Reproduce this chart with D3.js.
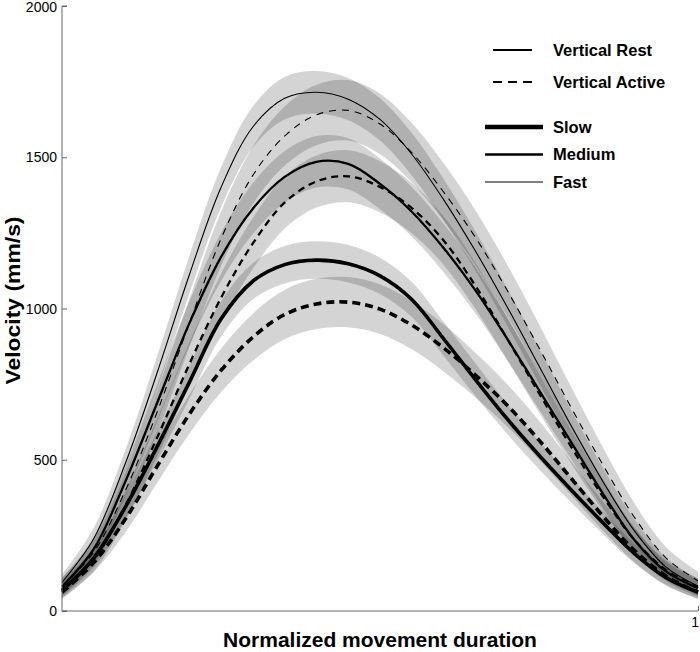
<!DOCTYPE html>
<html>
<head>
<meta charset="utf-8">
<script src="https://cdn.jsdelivr.net/npm/d3@7"></script>
<style>
  body { margin: 0; background: #fff; }
  svg { display: block; font-family: Arial, "Liberation Sans", sans-serif; }
  .tick-label { font-size: 14px; fill: #000; }
  .axis-title { font-size: 21px; font-weight: bold; fill: #000; }
  .legend-text { font-size: 16.5px; font-weight: bold; fill: #000; }
</style>
</head>
<body>
<svg width="700" height="652"></svg>
<script>
// normalized time samples
const tSteps = [0, 0.05, 0.1, 0.15, 0.2, 0.25, 0.3, 0.35, 0.4, 0.45, 0.5,
  0.55, 0.6, 0.65, 0.7, 0.75, 0.8, 0.85, 0.9, 0.95, 1];

// mean velocity profiles (mm/s)
const fastRest = [95, 240, 490, 790, 1110, 1400, 1600, 1695, 1715, 1692, 1625,
  1510, 1360, 1190, 1005, 810, 615, 430, 265, 145, 82];
const fastActive = [80, 195, 400, 660, 950, 1230, 1440, 1570, 1640, 1655, 1610,
  1515, 1385, 1235, 1060, 870, 675, 485, 310, 175, 100];
const mediumRest = [80, 205, 430, 690, 950, 1170, 1330, 1435, 1485, 1478, 1412,
  1320, 1200, 1060, 900, 730, 560, 390, 235, 130, 75];
const mediumActive = [70, 170, 350, 575, 815, 1035, 1215, 1350, 1420, 1437, 1402,
  1332, 1225, 1075, 900, 720, 545, 380, 235, 135, 80];
const slowRest = [68, 175, 345, 545, 755, 965, 1090, 1145, 1160, 1148, 1108,
  1030, 900, 765, 635, 515, 402, 293, 190, 110, 62];
const slowActive = [62, 160, 305, 480, 650, 795, 905, 980, 1015, 1021, 998,
  945, 870, 780, 680, 565, 440, 315, 200, 115, 62];

// standard deviations (mm/s)
const fastRestSd = [25, 35, 45, 55, 62, 66, 68, 70, 70, 70, 70, 70, 68, 65, 62, 58, 52, 45, 38, 30, 25];
const fastActiveSd = [30, 40, 55, 70, 80, 90, 95, 98, 100, 100, 100, 98, 95, 90, 85, 78, 68, 58, 46, 36, 30];
const mediumRestSd = [28, 38, 50, 62, 72, 80, 84, 85, 85, 85, 84, 82, 80, 76, 70, 64, 56, 48, 40, 32, 28];
const mediumActiveSd = [28, 38, 50, 62, 72, 80, 84, 86, 86, 86, 85, 83, 80, 76, 70, 64, 56, 48, 40, 32, 28];
const slowRestSd = [22, 30, 40, 48, 54, 58, 60, 62, 62, 62, 60, 58, 56, 54, 50, 46, 42, 38, 32, 26, 22];
const slowActiveSd = [22, 32, 44, 55, 65, 72, 78, 82, 83, 83, 82, 80, 78, 74, 70, 64, 56, 48, 38, 30, 22];

// axis ticks
const yTicks = [0, 500, 1000, 1500, 2000];
const xTicks = [1];

// legend entries
const condLegend = ["Vertical Rest", "Vertical Active"];
const speedLegend = ["Slow", "Medium", "Fast"];

const svg = d3.select("svg");

const x = d3.scaleLinear().domain([0, 1]).range([62, 698]);
const y = d3.scaleLinear().domain([0, 2000]).range([611, 6]);

// line styles per speed / condition
const widthBySpeed = { Slow: 3.6, Medium: 2.3, Fast: 1.1 };
const legendWidth = { Slow: 4.4, Medium: 2.7, Fast: 1 };
const dashBySpeed = { Slow: "8,5", Medium: "7,5", Fast: "7,6" };

const series = [
  { speed: "Fast", cond: "Rest", mean: fastRest, sd: fastRestSd },
  { speed: "Fast", cond: "Active", mean: fastActive, sd: fastActiveSd },
  { speed: "Medium", cond: "Rest", mean: mediumRest, sd: mediumRestSd },
  { speed: "Medium", cond: "Active", mean: mediumActive, sd: mediumActiveSd },
  { speed: "Slow", cond: "Rest", mean: slowRest, sd: slowRestSd },
  { speed: "Slow", cond: "Active", mean: slowActive, sd: slowActiveSd }
];

const curve = d3.curveCatmullRom.alpha(0.5);

const area = d3.area()
  .x((d) => x(d.t))
  .y0((d) => y(d.v - d.s))
  .y1((d) => y(d.v + d.s))
  .curve(curve);

const line = d3.line()
  .x((d) => x(d.t))
  .y((d) => y(d.v))
  .curve(curve);

const pts = (s) => tSteps.map((t, i) => ({ t, v: s.mean[i], s: s.sd[i] }));

// shaded bands
svg.append("g")
  .selectAll("path")
  .data(series)
  .enter().append("path")
    .attr("d", (d) => area(pts(d)))
    .attr("fill", "#000")
    .attr("fill-opacity", 0.17);

// mean lines
svg.append("g")
  .selectAll("path")
  .data(series)
  .enter().append("path")
    .attr("d", (d) => line(pts(d)))
    .attr("fill", "none")
    .attr("stroke", "#000")
    .attr("stroke-width", (d) => widthBySpeed[d.speed])
    .attr("stroke-dasharray", (d) => d.cond === "Active" ? dashBySpeed[d.speed] : null);

// axes
const axisColor = "#666";
const yAxis = svg.append("g").attr("transform", `translate(${x(0)},0)`)
  .call(d3.axisRight(y).tickValues(yTicks).tickSize(5).tickFormat(""));
yAxis.selectAll("line, path").attr("stroke", axisColor);
yAxis.select(".domain").attr("d", `M5,${y(0)}H0V${y(2000)}H5`);

svg.append("g")
  .selectAll("text")
  .data(yTicks)
  .enter().append("text")
    .attr("class", "tick-label")
    .attr("x", x(0) - 5)
    .attr("y", (d) => y(d))
    .attr("dy", (d) => d === 2000 ? "0.42em" : "0.36em")
    .attr("text-anchor", "end")
    .text((d) => d);

const xAxis = svg.append("g").attr("transform", `translate(0,${y(0)})`)
  .call(d3.axisTop(x).tickValues(xTicks).tickSize(5).tickFormat(""));
xAxis.selectAll("line, path").attr("stroke", axisColor);
xAxis.select(".domain").attr("d", `M${x(0)},0H${x(1)}`);

// the "1" sits at the right edge, kept just inside the frame
svg.append("g")
  .selectAll("text")
  .data(xTicks)
  .enter().append("text")
    .attr("class", "tick-label")
    .attr("x", (d) => Math.min(x(d) + 4, 699))
    .attr("y", y(0) + 16)
    .attr("text-anchor", "end")
    .text((d) => d);

svg.append("text")
  .attr("class", "axis-title")
  .attr("x", (x(0) + x(1)) / 2)
  .attr("y", 647)
  .attr("text-anchor", "middle")
  .text("Normalized movement duration");

svg.append("text")
  .attr("class", "axis-title")
  .attr("transform", `translate(20,${(y(0) + y(2000)) / 2 - 8}) rotate(-90)`)
  .attr("text-anchor", "middle")
  .attr("textLength", 168)
  .attr("lengthAdjust", "spacingAndGlyphs")
  .text("Velocity (mm/s)");

// legend
const legend = svg.append("g");

legend.selectAll(".cond")
  .data(condLegend)
  .enter().append("line")
    .attr("x1", 493).attr("x2", 532)
    .attr("y1", (d, i) => 50 + i * 32).attr("y2", (d, i) => 50 + i * 32)
    .attr("stroke", "#000").attr("stroke-width", 2)
    .attr("stroke-dasharray", (d, i) => i === 1 ? "9,6" : null);

legend.selectAll(".speed")
  .data(speedLegend)
  .enter().append("line")
    .attr("x1", 485).attr("x2", 543)
    .attr("y1", (d, i) => 127 + i * 27.5).attr("y2", (d, i) => 127 + i * 27.5)
    .attr("stroke", "#000").attr("stroke-width", (d) => legendWidth[d]);

legend.selectAll(".legend-text")
  .data(condLegend.map((d, i) => ({ d, yy: 50 + i * 32 }))
    .concat(speedLegend.map((d, i) => ({ d, yy: 127 + i * 27.5 }))))
  .enter().append("text")
    .attr("class", "legend-text")
    .attr("x", 553)
    .attr("y", (d) => d.yy)
    .attr("dy", "0.36em")
    .text((d) => d.d);
</script>
</body>
</html>
